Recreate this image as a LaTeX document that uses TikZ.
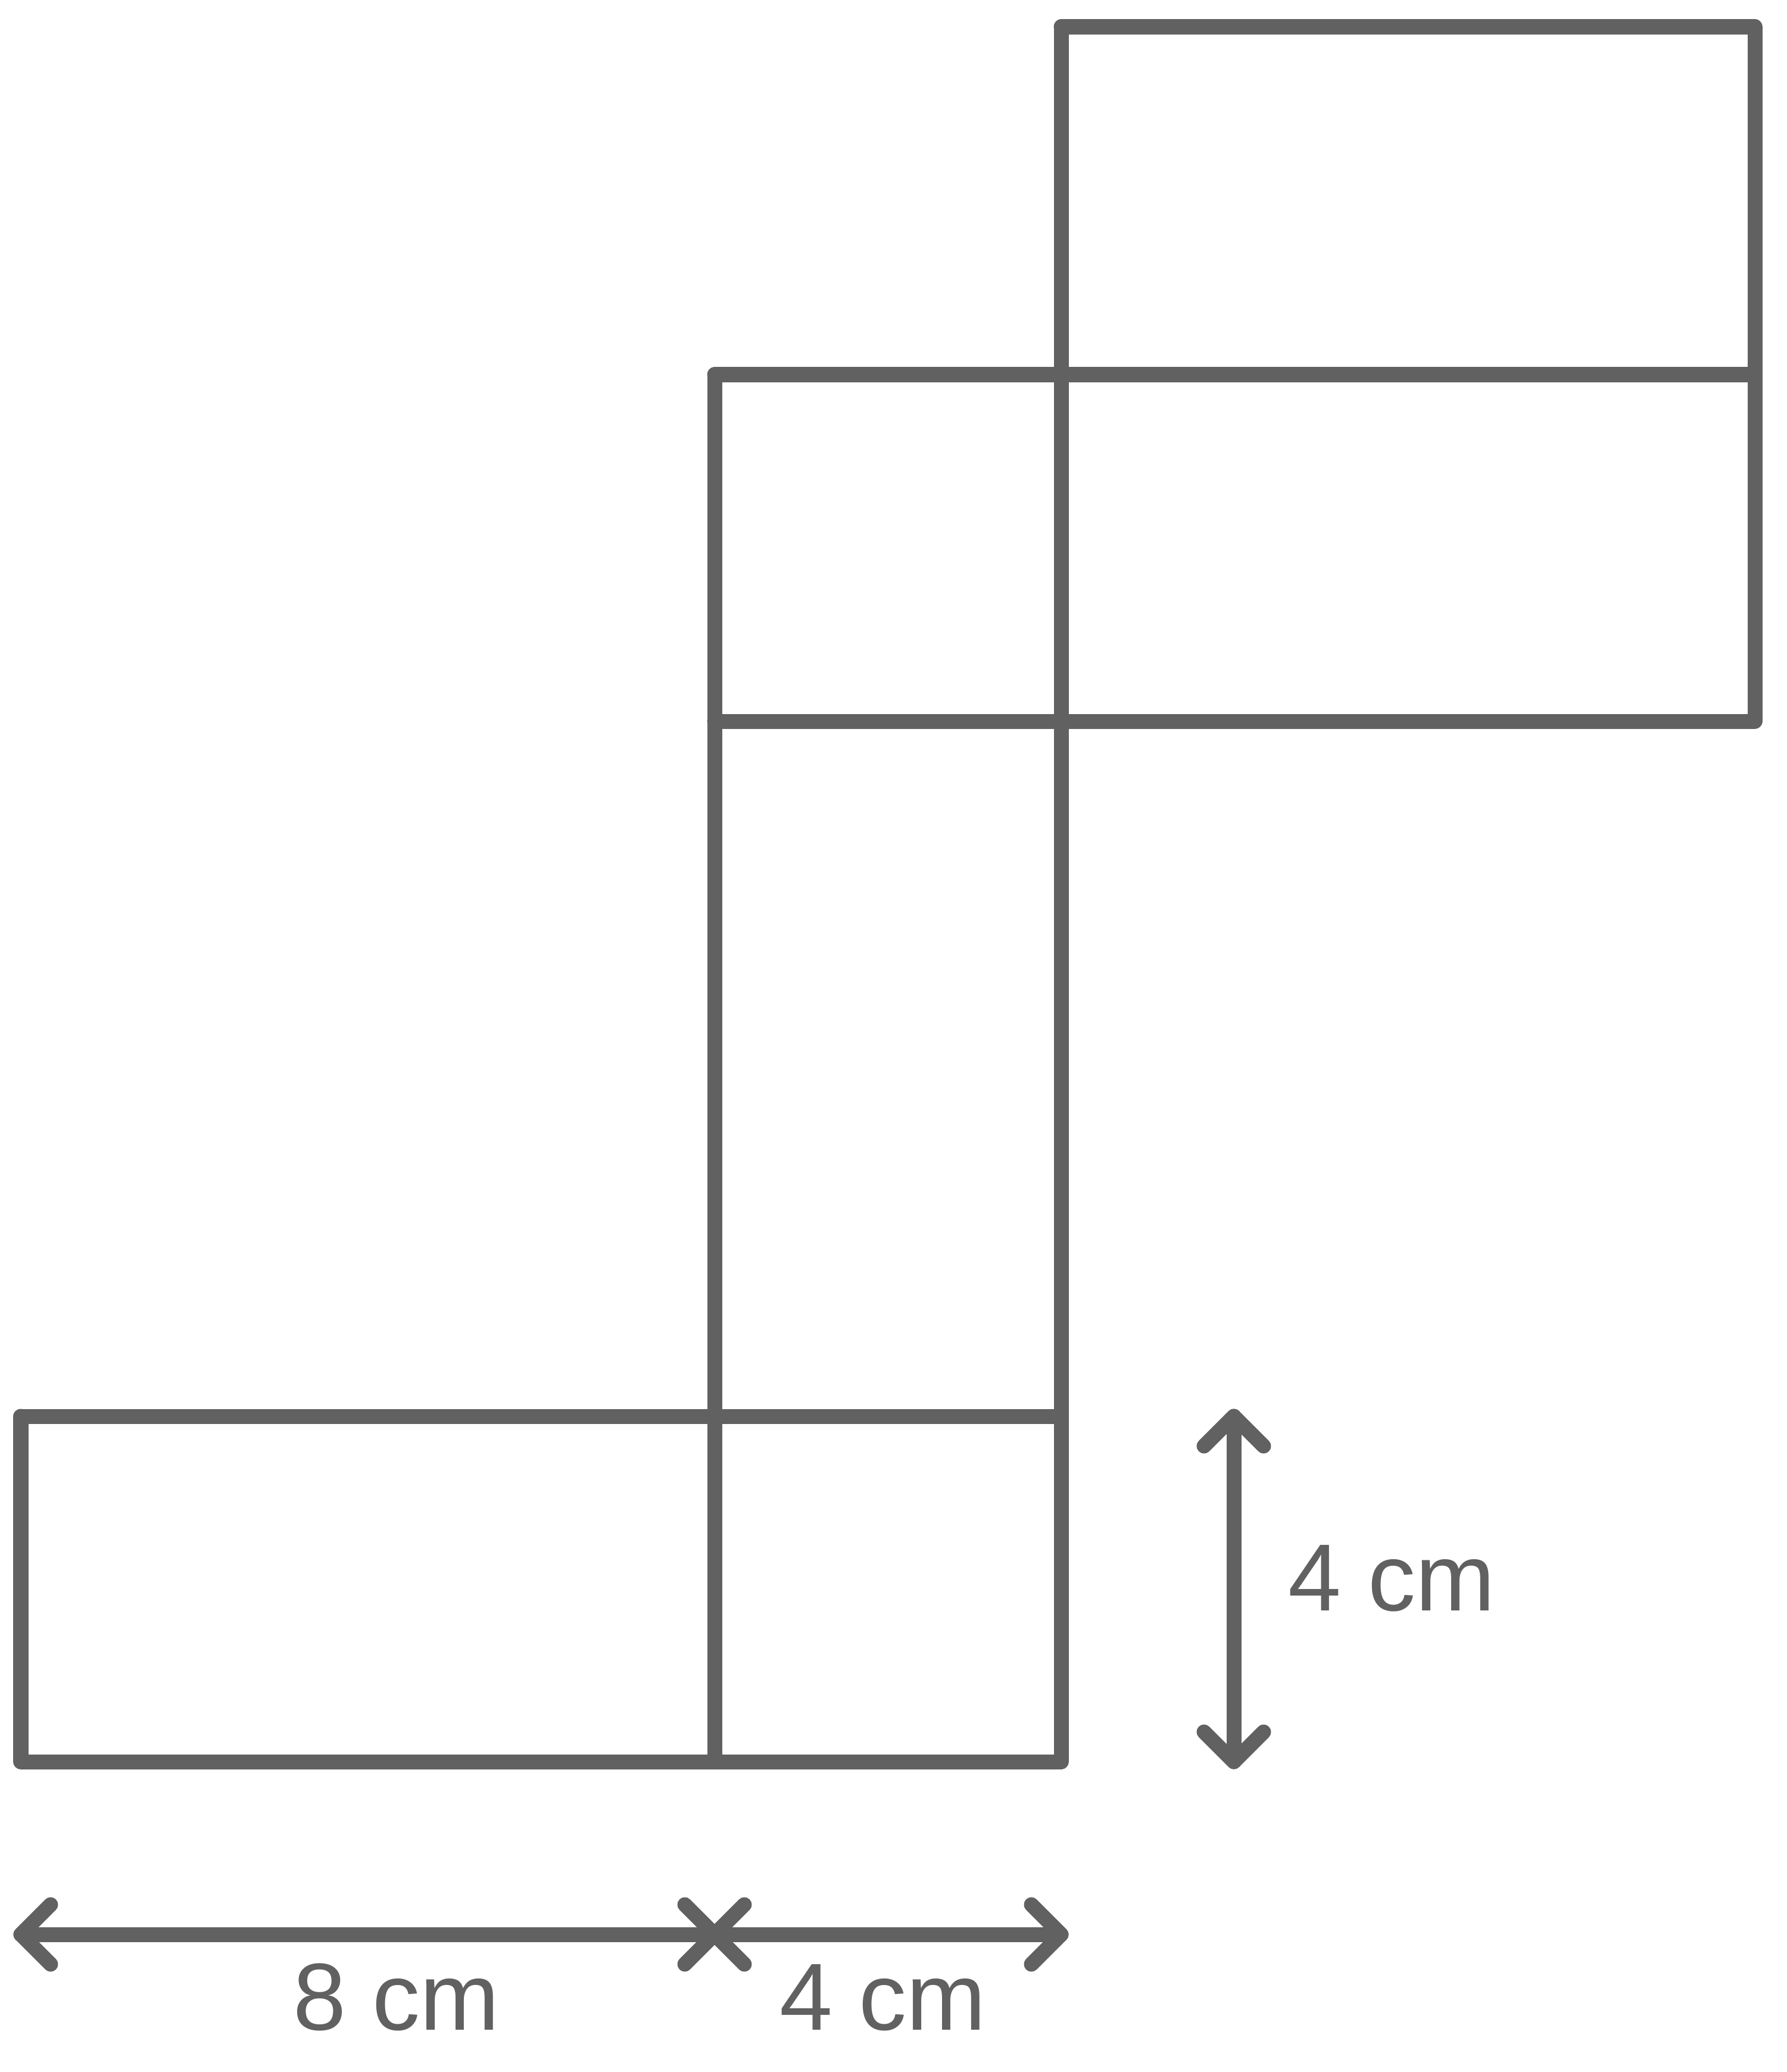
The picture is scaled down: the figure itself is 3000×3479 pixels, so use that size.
\documentclass[tikz,border=0pt]{standalone}
\usepackage{fontspec}
\setmainfont{Liberation Sans}
\definecolor{ink}{RGB}{97,97,97}
\begin{document}
\begin{tikzpicture}[x=0.01cm,y=-0.01cm,
  ln/.style={draw=ink,line width=0.25cm,line cap=round,line join=round},
  lbl/.style={text=ink,inner sep=0pt,font=\fontsize{45.5pt}{50pt}\selectfont}]
\useasboundingbox (0,0) rectangle (3000,3479);
% grid coordinates
\coordinate (A1) at (35,2378);   \coordinate (A2) at (35,2958);
\coordinate (B0) at (1200,629);  \coordinate (B1) at (1200,1211);
\coordinate (B2) at (1200,2378); \coordinate (B3) at (1200,2958);
\coordinate (C0) at (1782,45);   \coordinate (C1) at (1782,629);
\coordinate (C2) at (1782,1211); \coordinate (C3) at (1782,2378);
\coordinate (C4) at (1782,2958);
\coordinate (D0) at (2947,45);   \coordinate (D1) at (2947,629);
\coordinate (D2) at (2947,1211);
% net outline and folds
\draw[ln] (C0) -- (D0) -- (D2);
\draw[ln] (B0) -- (D1);
\draw[ln] (B1) -- (D2);
\draw[ln] (C0) -- (C4);
\draw[ln] (B0) -- (B3);
\draw[ln] (A1) -- (C3);
\draw[ln] (A2) -- (C4);
\draw[ln] (A1) -- (A2);
% horizontal dimension
\coordinate (hL) at (35,3248); \coordinate (hM) at (1200,3248); \coordinate (hR) at (1782,3248);
\draw[ln] (hL) -- (hR);
\draw[ln] (85,3198) -- (hL) -- (85,3298);
\draw[ln] (1250,3198) -- (hM) -- (1250,3298);
\draw[ln] (1150,3198) -- (hM) -- (1150,3298);
\draw[ln] (1732,3198) -- (hR) -- (1732,3298);
% vertical dimension
\coordinate (vT) at (2072,2378); \coordinate (vB) at (2072,2958);
\draw[ln] (vT) -- (vB);
\draw[ln] (2022,2428) -- (vT) -- (2122,2428);
\draw[ln] (2022,2908) -- (vB) -- (2122,2908);
% labels
\node[lbl,anchor=base] (l8) at (666,3408) {8 cm};
\node[lbl,anchor=base] (l4a) at (1483,3408) {4 cm};
\node[lbl,anchor=base west] (l4b) at (2163,2704) {4 cm};
\end{tikzpicture}
\end{document}
